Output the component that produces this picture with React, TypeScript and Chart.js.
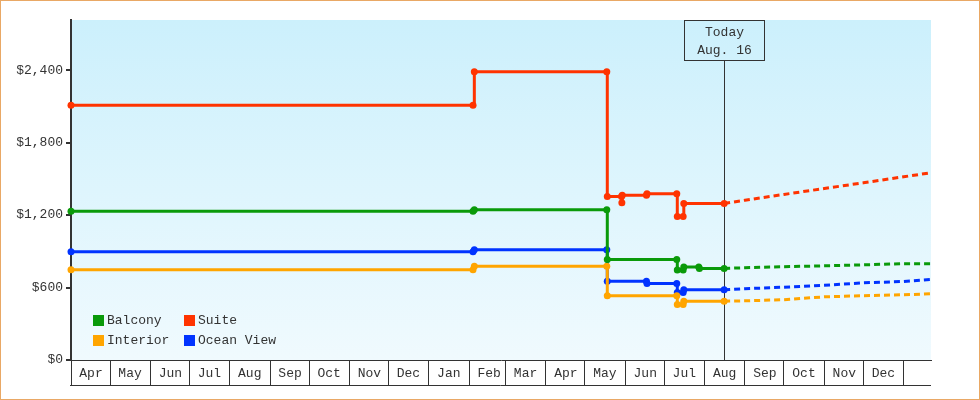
import React, { useEffect, useRef } from 'react';
import { Chart, registerables } from 'chart.js';

Chart.register(...registerables);

// x values are day offsets counted from April 1 of the first year shown
const monthLabels = ['Apr', 'May', 'Jun', 'Jul', 'Aug', 'Sep', 'Oct', 'Nov', 'Dec', 'Jan', 'Feb', 'Mar', 'Apr', 'May', 'Jun', 'Jul', 'Aug', 'Sep', 'Oct', 'Nov', 'Dec', ''];
const monthStartDays = [0, 30, 61, 91, 122, 153, 183, 214, 244, 275, 306, 334, 365, 395, 426, 456, 487, 518, 548, 579, 609, 640];
const xMaxDay = 661;

const yTicks = [0, 600, 1200, 1800, 2400];
const yMax = 2815;

const todayDay = 502;
const todayText = ['Today', 'Aug. 16'];

const seriesNames = ['Balcony', 'Interior', 'Suite', 'Ocean View'];
const seriesColors = ['#0a9a0a', '#ffa500', '#ff3300', '#0033ff'];

const balconyHistory: [number, number][] = [
  [0, 1232], [309, 1232], [310, 1245], [411.8, 1245], [412.2, 832], [465.6, 832],
  [466.0, 745], [470.5, 745], [471.0, 770], [482.5, 770], [483.0, 758], [502, 758],
];
const interiorHistory: [number, number][] = [
  [0, 747], [309, 747], [310, 776], [411.8, 776], [412.2, 532], [465.6, 532],
  [466.0, 460], [470.5, 460], [471.0, 487], [502, 487],
];
const suiteHistory: [number, number][] = [
  [0, 2110], [309, 2110], [310, 2387], [411.8, 2387], [412.2, 1353], [423.1, 1353],
  [423.4, 1302], [423.7, 1365], [442.3, 1365], [442.7, 1377], [465.6, 1377],
  [466.0, 1188], [470.5, 1188], [471.0, 1296], [502, 1296],
];
const oceanViewHistory: [number, number][] = [
  [0, 896], [309, 896], [310, 913], [411.8, 913], [412.2, 653], [442.3, 653],
  [442.7, 634], [465.6, 634], [466.0, 559], [470.5, 559], [471.0, 581], [502, 581],
];

const forecastDays = [502, 518, 548, 579, 609, 640, 661];
const balconyForecast = [758, 764, 772, 780, 788, 797, 797];
const interiorForecast = [487, 490, 499, 523, 532, 540, 548];
const suiteForecast = [1296, 1323, 1371, 1420, 1467, 1517, 1550];
const oceanViewForecast = [581, 590, 603, 619, 639, 650, 667];

const histories = [balconyHistory, interiorHistory, suiteHistory, oceanViewHistory];
const forecasts = [balconyForecast, interiorForecast, suiteForecast, oceanViewForecast];

const FONT = '"Liberation Mono", "DejaVu Sans Mono", monospace';
const INK = '#333333';

const backgroundPlugin = {
  id: 'plotBackground',
  beforeDraw(chart: any) {
    const { ctx, chartArea: a } = chart;
    const g = ctx.createLinearGradient(0, a.top, 0, a.bottom);
    g.addColorStop(0, '#ccf0fc');
    g.addColorStop(1, '#f0fafe');
    ctx.save();
    ctx.fillStyle = g;
    ctx.fillRect(a.left, a.top, a.right - a.left, a.bottom - a.top);
    ctx.restore();
  },
};

const todayPlugin = {
  id: 'todayMarker',
  beforeDatasetsDraw(chart: any) {
    const { ctx, chartArea: a, scales } = chart;
    const x = Math.round(scales.x.getPixelForValue(todayDay)) + 0.5;
    ctx.save();
    ctx.strokeStyle = INK;
    ctx.lineWidth = 1;
    ctx.beginPath();
    ctx.moveTo(x, a.top + 40);
    ctx.lineTo(x, a.bottom);
    ctx.stroke();
    ctx.restore();
  },
  afterDatasetsDraw(chart: any) {
    const { ctx, chartArea: a, scales } = chart;
    const xc = Math.round(scales.x.getPixelForValue(todayDay));
    ctx.save();
    ctx.strokeStyle = INK;
    ctx.lineWidth = 1;
    ctx.strokeRect(xc - 40 + 0.5, Math.round(a.top) + 0.5, 80, 40);
    ctx.fillStyle = INK;
    ctx.font = `13px ${FONT}`;
    ctx.textAlign = 'center';
    ctx.textBaseline = 'middle';
    ctx.fillText(todayText[0], xc + 0.5, a.top + 13);
    ctx.fillText(todayText[1], xc + 0.5, a.top + 31);
    ctx.restore();
  },
};

const legendPlugin = {
  id: 'gridLegend',
  afterDatasetsDraw(chart: any) {
    const { ctx, chartArea: a } = chart;
    ctx.save();
    ctx.font = `13px ${FONT}`;
    ctx.textAlign = 'left';
    ctx.textBaseline = 'middle';
    seriesNames.forEach((name, i) => {
      const col = Math.floor(i / 2);
      const row = i % 2;
      const x = Math.round(a.left + 22 + col * 90.5);
      const y = Math.round(a.bottom - 45 + row * 20);
      ctx.fillStyle = seriesColors[i];
      ctx.fillRect(x, y, 11, 11);
      ctx.fillStyle = INK;
      ctx.fillText(name, x + 14, y + 6);
    });
    ctx.restore();
  },
};

const axisBottomPlugin = {
  id: 'axisBottomLine',
  afterDraw(chart: any) {
    const { ctx, chartArea: a, scales } = chart;
    const y = Math.round(scales.x.top + 25) + 0.5;
    ctx.save();
    ctx.strokeStyle = INK;
    ctx.lineWidth = 1;
    ctx.beginPath();
    ctx.moveTo(a.left - 1, y);
    ctx.lineTo(a.right, y);
    ctx.stroke();
    ctx.restore();
  },
};

export default function App() {
  const ref = useRef<HTMLCanvasElement>(null);

  useEffect(() => {
    document.body.style.margin = '0';
    const canvas = ref.current;
    if (!canvas) return;

    const datasets: any[] = [];
    seriesNames.forEach((name, i) => {
      datasets.push({
        label: name,
        data: histories[i].map(([x, y]) => ({ x, y })),
        borderColor: seriesColors[i],
        backgroundColor: seriesColors[i],
        borderWidth: 3,
        stepped: 'before',
        tension: 0,
        pointRadius: 3.5,
        pointBorderWidth: 0,
        pointHoverRadius: 3.5,
        fill: false,
        clip: false,
      });
    });
    seriesNames.forEach((name, i) => {
      datasets.push({
        label: name + ' forecast',
        data: forecastDays.map((x, k) => ({ x, y: forecasts[i][k] })),
        borderColor: seriesColors[i],
        backgroundColor: seriesColors[i],
        borderWidth: 3,
        borderDash: [6, 4],
        tension: 0,
        pointRadius: 0,
        pointHoverRadius: 0,
        fill: false,
        clip: false,
      });
    });

    const chart = new Chart(canvas, {
      type: 'line',
      data: { datasets },
      plugins: [backgroundPlugin, todayPlugin, legendPlugin, axisBottomPlugin],
      options: {
        animation: false,
        responsive: false,
        maintainAspectRatio: false,
        events: [],
        layout: { padding: { top: 19, right: 48, bottom: 14, left: 0 } },
        plugins: {
          legend: { display: false },
          tooltip: { enabled: false },
        },
        scales: {
          x: {
            type: 'linear',
            min: 0,
            max: xMaxDay,
            afterBuildTicks: (s: any) => {
              s.ticks = monthStartDays.map((v) => ({ value: v }));
            },
            afterFit: (s: any) => {
              s.height = 25;
            },
            grid: { drawOnChartArea: false, drawTicks: true, tickLength: 25, color: INK, lineWidth: 1 },
            border: { display: true, color: INK, width: 1 },
            ticks: {
              autoSkip: false,
              maxRotation: 0,
              minRotation: 0,
              labelOffset: 20,
              padding: -19,
              color: INK,
              font: { family: FONT, size: 13 },
              callback: (_v: any, i: number) => monthLabels[i] ?? '',
            },
          },
          y: {
            type: 'linear',
            min: 0,
            max: yMax,
            afterBuildTicks: (s: any) => {
              s.ticks = yTicks.map((v) => ({ value: v }));
            },
            afterFit: (s: any) => {
              s.width = 70;
            },
            grid: { drawOnChartArea: false, drawTicks: true, tickLength: 5, color: INK, lineWidth: 2 },
            border: { display: true, color: INK, width: 2 },
            ticks: {
              padding: 3,
              color: INK,
              font: { family: FONT, size: 13 },
              callback: (v: any) => '$' + Number(v).toLocaleString('en-US'),
            },
          },
        },
      } as any,
    });

    return () => chart.destroy();
  }, []);

  return (
    <div
      style={{
        width: 980,
        height: 400,
        boxSizing: 'border-box',
        border: '1px solid #e9a865',
        background: '#ffffff',
        overflow: 'hidden',
      }}
    >
      <canvas ref={ref} width={978} height={398} style={{ display: 'block', width: 978, height: 398 }} />
    </div>
  );
}
